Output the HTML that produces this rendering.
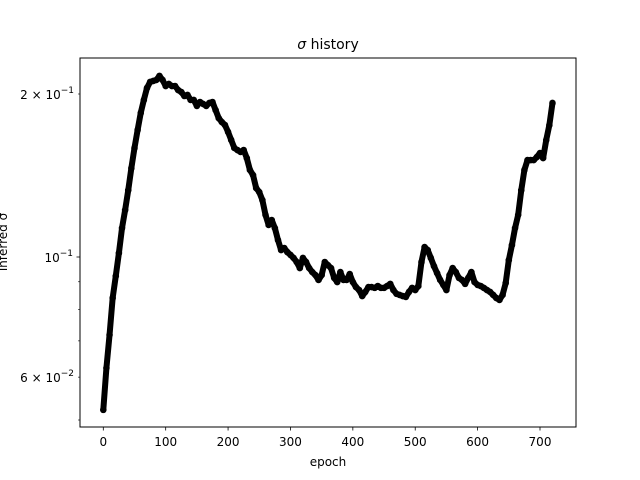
<!DOCTYPE html>
<html><head><meta charset="utf-8"><style>
html,body{margin:0;padding:0;background:#fff;}
svg{display:block;font-family:"DejaVu Sans","Liberation Sans",sans-serif;}
</style></head><body>
<svg id="chart" width="640" height="480" viewBox="0 0 640 480">
<rect width="640" height="480" fill="#fff"/>
<text x="328" y="49" font-size="14" text-anchor="middle"><tspan font-style="italic">σ</tspan> history</text>
<text x="328" y="466" font-size="12" text-anchor="middle">epoch</text>
<text transform="translate(7,242) rotate(-90)" font-size="12" text-anchor="middle">inferred σ</text>
<g id="marks"></g>
<g id="axes"></g>
<rect x="80" y="58" width="496" height="369" fill="none" stroke="#000" stroke-width="1"/>
</svg>
<script>
const epochs = [0,5,10,15,20,25,30,35,40,45,50,55,60,65,70,75,80,85,90,95,100,105,110,115,120,125,130,135,140,145,150,155,160,165,170,175,180,185,190,195,200,205,210,215,220,225,230,235,240,245,250,255,260,265,270,275,280,285,290,295,300,305,310,315,320,325,330,335,340,345,350,355,360,365,370,375,380,385,390,395,400,405,410,415,420,425,430,435,440,445,450,455,460,465,470,475,480,485,490,495,500,505,510,515,520,525,530,535,540,545,550,555,560,565,570,575,580,585,590,595,600,605,610,615,620,625,630,635,640,645,650,655,660,665,670,675,680,685,690,695,700,705,710,715,720];
const sigma = [0.0522,0.0624,0.0718,0.0840,0.0922,0.1017,0.1131,0.1221,0.1329,0.1460,0.1590,0.1716,0.1845,0.1950,0.2052,0.2105,0.2114,0.2123,0.2160,0.2123,0.2069,0.2087,0.2069,0.2069,0.2034,0.2017,0.1983,0.1992,0.1950,0.1950,0.1901,0.1933,0.1917,0.1901,0.1925,0.1933,0.1868,0.1805,0.1775,0.1753,0.1702,0.1645,0.1590,0.1576,0.1563,0.1576,0.1523,0.1448,0.1417,0.1341,0.1318,0.1274,0.1196,0.1146,0.1170,0.1131,0.1075,0.1030,0.1039,0.1021,0.1009,0.0996,0.0979,0.0954,0.0996,0.0979,0.0954,0.0938,0.0926,0.0907,0.0926,0.0979,0.0966,0.0954,0.0915,0.0899,0.0938,0.0907,0.0907,0.0930,0.0899,0.0880,0.0869,0.0847,0.0862,0.0880,0.0880,0.0877,0.0884,0.0877,0.0877,0.0884,0.0892,0.0869,0.0855,0.0851,0.0847,0.0844,0.0862,0.0877,0.0869,0.0884,0.0979,0.1043,0.1030,0.0996,0.0962,0.0934,0.0907,0.0888,0.0869,0.0926,0.0954,0.0938,0.0915,0.0907,0.0892,0.0915,0.0938,0.0899,0.0888,0.0884,0.0877,0.0869,0.0862,0.0851,0.0840,0.0833,0.0851,0.0895,0.0987,0.1052,0.1131,0.1196,0.1329,0.1448,0.1510,0.1510,0.1510,0.1530,0.1556,0.1523,0.1645,0.1753,0.1925];
const xTicks = [0,100,200,300,400,500,600,700];
const yMajor = [0.1];
const yMajorLabels = ["10","−1"];
const yMinor = [0.05,0.06,0.07,0.08,0.09,0.2];
const yMinorLabels = {"0.06":"6","0.2":"2"};

const NS="http://www.w3.org/2000/svg";
const L=80,R=576,T=58,B=427;
function xs(e){return 103.3+(e-0)*(540-103.3)/700;}
function ys(v){return 257-(Math.log10(v)+1)*541.5;}
function mk(tag,attrs,parent){const el=document.createElementNS(NS,tag);for(const k in attrs)el.setAttribute(k,attrs[k]);parent.appendChild(el);return el;}
const marks=document.getElementById('marks'), axes=document.getElementById('axes');
let d='';
epochs.forEach((e,i)=>{d+=(i?'L':'M')+xs(e).toFixed(2)+' '+ys(sigma[i]).toFixed(2);});
const line=mk('path',{d:d,fill:'none',stroke:'#000','stroke-width':6,'stroke-linejoin':'round','stroke-linecap':'round'},marks);


epochs.forEach((e,i)=>{
  const c=mk('circle',{cx:xs(e).toFixed(2),cy:ys(sigma[i]).toFixed(2),r:3.3,fill:'#000'},marks);
  
  
});
xTicks.forEach(t=>{
  const x=xs(t);
  const tk=mk('line',{x1:x,x2:x,y1:B,y2:B+3.5,stroke:'#000','stroke-width':0.8},axes);
  
  
  const lb=mk('text',{x:x,y:B+19,'font-size':12,'text-anchor':'middle'},axes);
  lb.textContent=t;
  
  
});
yMajor.forEach(v=>{
  const y=ys(v);
  const tk=mk('line',{x1:L-3.5,x2:L,y1:y,y2:y,stroke:'#000','stroke-width':0.8},axes);
  
  
  const lb=mk('text',{x:L-7,y:y+5,'font-size':12,'text-anchor':'end'},axes);
  lb.innerHTML=yMajorLabels[0]+'<tspan dy="-6" font-size="9">'+yMajorLabels[1]+'</tspan>';
  
  
});
yMinor.forEach(v=>{
  const y=ys(v);
  const tk=mk('line',{x1:L-2,x2:L,y1:y,y2:y,stroke:'#000','stroke-width':0.6},axes);
  
  
  const key=String(v);
  if(yMinorLabels[key]){
    const lb=mk('text',{x:L-6,y:y+5,'font-size':12,'text-anchor':'end'},axes);
    lb.innerHTML=yMinorLabels[key]+' × 10<tspan dy="-6" font-size="9">−'+(v<0.1?2:1)+'</tspan>';
    
    
  }
});
</script>
</body></html>
